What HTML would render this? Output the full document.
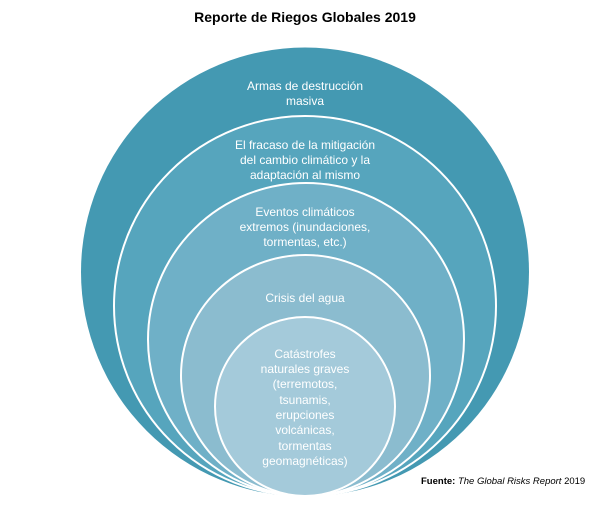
<!DOCTYPE html>
<html><head><meta charset="utf-8"><style>
body{margin:0;background:#fff;width:606px;height:500px;overflow:hidden}
</style></head><body>
<svg width="606" height="500" xmlns="http://www.w3.org/2000/svg" font-family="Liberation Sans, sans-serif">
<text x="305" y="22" text-anchor="middle" font-size="14" font-weight="bold" fill="#000">Reporte de Riegos Globales 2019</text>
<ellipse cx="305" cy="272" rx="224" ry="224.5" fill="#4499B2"/>
<ellipse cx="305" cy="306" rx="191" ry="190" fill="#56A5BD" stroke="#fff" stroke-width="2"/>
<ellipse cx="306" cy="339.5" rx="158" ry="156.5" fill="#6FB0C7" stroke="#fff" stroke-width="2"/>
<ellipse cx="305.5" cy="375.5" rx="124.5" ry="120.5" fill="#8BBCCF" stroke="#fff" stroke-width="2"/>
<ellipse cx="305" cy="406.5" rx="90" ry="89.5" fill="#A4CADA" stroke="#fff" stroke-width="2"/>
<g fill="#fff" font-size="12" text-anchor="middle">
<text x="305" y="90">Armas de destrucción</text>
<text x="305" y="105">masiva</text>
<text x="305" y="149">El fracaso de la mitigación</text>
<text x="305" y="164">del cambio climático y la</text>
<text x="305" y="179">adaptación al mismo</text>
<text x="305" y="216">Eventos climáticos</text>
<text x="305" y="231">extremos (inundaciones,</text>
<text x="305" y="246">tormentas, etc.)</text>
<text x="305" y="302">Crisis del agua</text>
<text x="305" y="358">Catástrofes</text>
<text x="305" y="373">naturales graves</text>
<text x="305" y="388">(terremotos,</text>
<text x="305" y="404">tsunamis,</text>
<text x="305" y="419">erupciones</text>
<text x="305" y="434">volcánicas,</text>
<text x="305" y="450">tormentas</text>
<text x="305" y="465">geomagnéticas)</text>
</g>
<text x="421" y="484" font-size="9.5" fill="#000"><tspan font-weight="bold">Fuente:</tspan> <tspan font-style="italic">The Global Risks Report</tspan> 2019</text>
</svg>
</body></html>
